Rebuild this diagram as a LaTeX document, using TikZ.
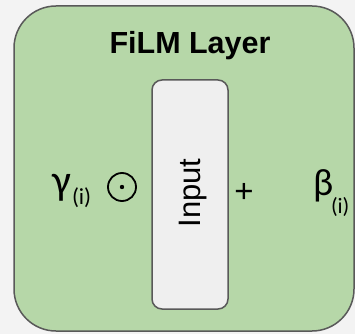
\documentclass[tikz,border=0pt]{standalone}
\usepackage{fontspec}
\setmainfont{Liberation Sans}
\newfontfamily\carl{Carlito}
\definecolor{bgc}{HTML}{F3F3F3}
\definecolor{greenfill}{HTML}{B6D7A8}
\definecolor{borderc}{HTML}{595959}
\definecolor{innerfill}{HTML}{EFEFEF}
\tikzset{
  txt/.style={inner sep=0pt, outer sep=0pt, text=black},
  outerbox/.style={draw=borderc, fill=greenfill, line width=1.5pt, rounded corners=42pt},
  innerbox/.style={draw=borderc, fill=innerfill, line width=1.5pt, rounded corners=10pt},
}
\begin{document}
\begin{tikzpicture}[x=1pt,y=-1pt]
\useasboundingbox (0,0) rectangle (355,334);
\fill[bgc] (0,0) rectangle (355,334);
\draw[outerbox] (14,6) rectangle (354,331);
\draw[innerbox] (152,80) rectangle (228,309);
\node[txt, anchor=base] (title) at (190,54) {\fontsize{30.5}{36}\selectfont\bfseries FiLM Layer};
\node[txt, anchor=base, rotate=90] (input) at (200,193) {\fontsize{31}{38}\selectfont Input};
\node[txt, anchor=base west] (gamma) at (52,194) {\carl\fontsize{42}{50}\selectfont γ};
\node[txt, anchor=base west] (gsub) at (72,204) {\carl\fontsize{23}{28}\selectfont (i)};
\node[circle, draw=black, line width=1.8pt, minimum size=28pt, inner sep=0pt] (odot) at (122,187) {};
\fill (odot.center) circle (2.2pt);
\node[txt, anchor=base] (plus) at (244,202) {\fontsize{33}{40}\selectfont +};
\node[txt, anchor=base west] (beta) at (313,195) {\carl\fontsize{38}{45}\selectfont β};
\node[txt, anchor=base west] (bsub) at (331,213) {\carl\fontsize{22}{27}\selectfont (i)};
\end{tikzpicture}
\end{document}
